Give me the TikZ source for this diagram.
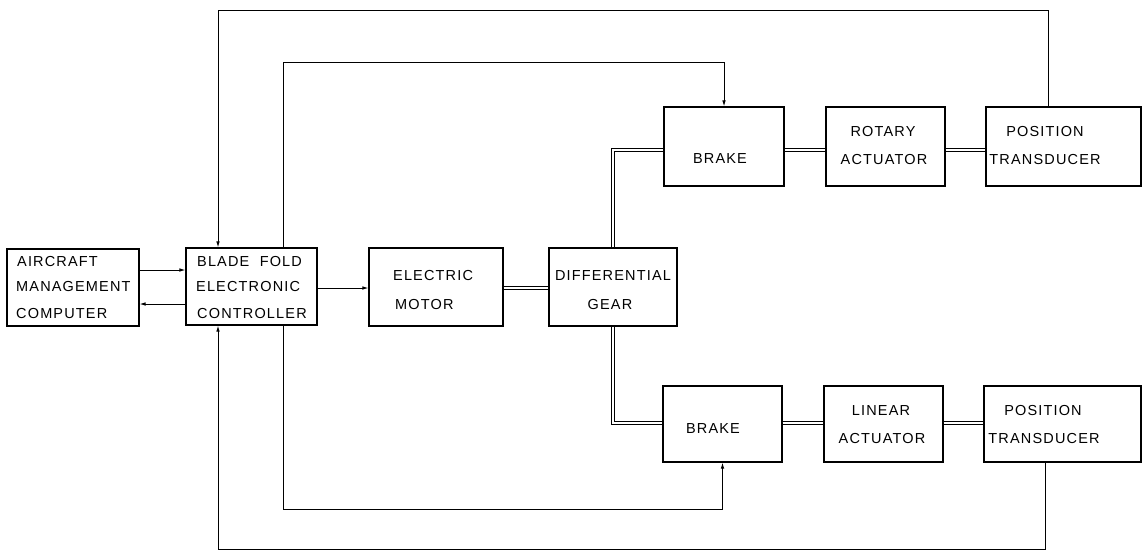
\documentclass[tikz,border=0pt]{standalone}
\usepackage{fontspec}
\setmainfont{Liberation Sans}[LetterSpace=8]
\usetikzlibrary{arrows.meta,calc}
\begin{document}
\begin{tikzpicture}[x=1pt,y=-1pt,
  blk/.style={draw, line width=1.2pt, minimum width=#1, inner sep=0pt},
  t/.style={anchor=base, inner sep=0pt, font=\fontsize{14.5}{17}\selectfont},
  tl/.style={anchor=base west, inner sep=0pt, font=\fontsize{14.5}{17}\selectfont},
  arr/.style={line width=0.9pt, -{Latex[length=6pt,width=3.6pt]}},
  shaft/.style={double, line width=0.9pt, double distance=2.2pt}]
\useasboundingbox (0,0) rectangle (1142,555);
% boxes
\node[blk=132pt, minimum height=77pt] (amc) at (73,287.5) {};
\node[blk=131pt, minimum height=77pt] (bfec) at (251.5,286.5) {};
\node[blk=134pt, minimum height=78pt] (em) at (436,287) {};
\node[blk=128pt, minimum height=78pt] (dg) at (613,287) {};
\node[blk=120pt, minimum height=79pt] (b1) at (724,146.5) {};
\node[blk=119pt, minimum height=79pt] (ra) at (885.5,146.5) {};
\node[blk=155pt, minimum height=79pt] (pt1) at (1063.5,146.5) {};
\node[blk=119pt, minimum height=76pt] (b2) at (722.5,424) {};
\node[blk=119pt, minimum height=76pt] (la) at (883.5,424) {};
\node[blk=157pt, minimum height=76pt] (pt2) at (1062.5,424) {};
% texts
\node[tl] (amc1) at (17,266) {AIRCRAFT};
\node[tl] (amc2) at (16,291) {MANAGEMENT};
\node[tl] (amc3) at (16,318) {COMPUTER};
\node[tl] (bf1) at (197,266) {BLADE\ \ FOLD};
\node[tl] (bf2) at (196,291) {ELECTRONIC};
\node[tl] (bf3) at (197,318) {CONTROLLER};
\node[tl] (em1) at (393,280) {ELECTRIC};
\node[tl] (em2) at (395,309) {MOTOR};
\node[t] (dg1) at (613,280) {DIFFERENTIAL};
\node[t] (dg2) at (610,309) {GEAR};
\node[t] (b1t) at (720,163) {BRAKE};
\node[t] (ra1) at (883,136) {ROTARY};
\node[t] (ra2) at (884,164) {ACTUATOR};
\node[t] (pa1) at (1045,136) {POSITION};
\node[t] (pa2) at (1045,164) {TRANSDUCER};
\node[t] (b2t) at (713,433) {BRAKE};
\node[t] (la1) at (881,415) {LINEAR};
\node[t] (la2) at (882,443) {ACTUATOR};
\node[t] (pb1) at (1043,415) {POSITION};
\node[t] (pb2) at (1044,443) {TRANSDUCER};
% signal lines
\coordinate (y1) at (0,270);
\coordinate (y2) at (0,304);
\coordinate (y3) at (0,288);
\draw[arr] (amc.east |- y1) -- (bfec.west |- y1);
\draw[arr] (bfec.west |- y2) -- (amc.east |- y2);
\draw[arr] (bfec.east |- y3) -- (em.west |- y3);
% loops
\coordinate (tA) at (1048,10);
\coordinate (tB) at (218,10);
\coordinate (iA) at (283,62);
\coordinate (jA) at (283,509);
\coordinate (oA) at (1045,549);
\coordinate (oB) at (218,549);
\draw[arr] (pt1.north -| tA) -- (tA) -- (tB) -- (bfec.north -| tB);
\draw[arr] (bfec.north -| iA) -- (iA) -| (b1.north);
\draw[arr] (bfec.south -| jA) -- (jA) -| (b2.south);
\draw[arr] (pt2.south -| oA) -- (oA) -- (oB) -- (bfec.south -| oB);
% mechanical shafts
\coordinate (yt) at (0,150);
\coordinate (yb) at (0,423);
\draw[shaft] (em.east |- y3) -- (dg.west |- y3);
\draw[shaft] (dg.north) -- (dg.north |- yt) -- (b1.west |- yt);
\draw[shaft] (dg.south) -- (dg.south |- yb) -- (b2.west |- yb);
\draw[shaft] (b1.east |- yt) -- (ra.west |- yt);
\draw[shaft] (ra.east |- yt) -- (pt1.west |- yt);
\draw[shaft] (b2.east |- yb) -- (la.west |- yb);
\draw[shaft] (la.east |- yb) -- (pt2.west |- yb);
\end{tikzpicture}
\end{document}
